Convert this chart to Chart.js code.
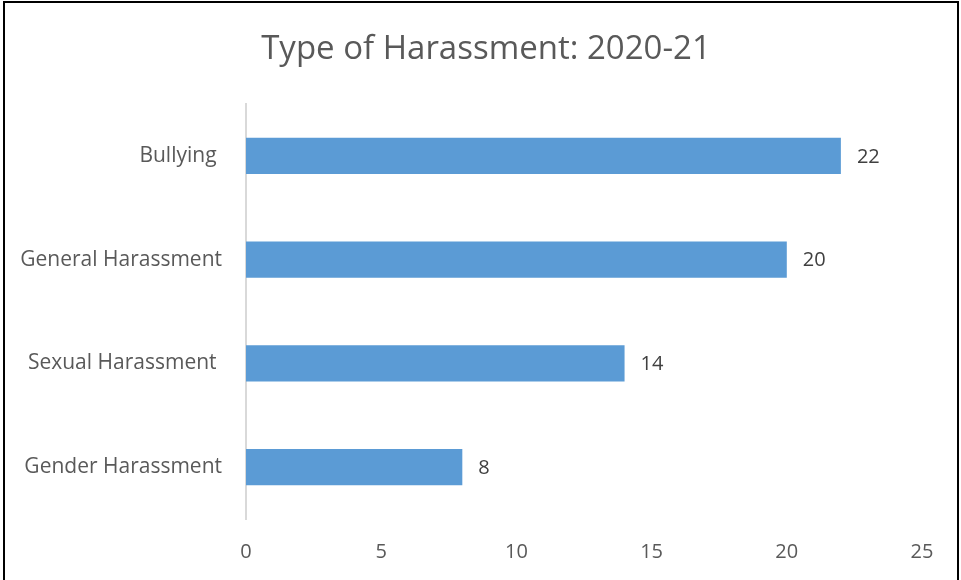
<!DOCTYPE html>
<html>
<head>
<meta charset="utf-8">
<script src="https://cdn.jsdelivr.net/npm/chart.js@4"></script>
<style>
  html, body { margin: 0; padding: 0; background: #fff; }
  #wrap { position: relative; width: 961px; height: 580px; }
  canvas { display: block; }
</style>
</head>
<body>
<div id="wrap"><canvas id="c" width="961" height="580"></canvas></div>
<script>
const chartTitle = 'Type of Harassment: 2020-21';
const categories = ['Bullying ', 'General Harassment', 'Sexual Harassment ', 'Gender Harassment'];
const values = [22, 20, 14, 8];
const axisMin = 0;
const axisMax = 25;
const axisStep = 5;

const FONT = '"Open Sans", Lato, sans-serif';

const valueLabels = {
  id: 'valueLabels',
  afterDatasetsDraw(chart) {
    const ctx = chart.ctx;
    const meta = chart.getDatasetMeta(0);
    ctx.save();
    ctx.font = '20px ' + FONT;
    ctx.fillStyle = '#404040';
    ctx.textAlign = 'left';
    ctx.textBaseline = 'middle';
    meta.data.forEach((bar, i) => {
      ctx.fillText(String(values[i]), bar.x + 16, bar.y + 1);
    });
    ctx.restore();
  }
};

const frame = {
  id: 'frame',
  afterDraw(chart) {
    const ctx = chart.ctx;
    ctx.save();
    ctx.strokeStyle = '#000';
    ctx.lineWidth = 2;
    ctx.beginPath();
    ctx.moveTo(4, 585);
    ctx.lineTo(4, 2);
    ctx.lineTo(958, 2);
    ctx.lineTo(958, 585);
    ctx.stroke();
    ctx.restore();
  }
};

new Chart(document.getElementById('c'), {
  type: 'bar',
  data: {
    labels: categories,
    datasets: [{
      data: values,
      backgroundColor: '#5B9BD5',
      borderWidth: 0,
      categoryPercentage: 1,
      barPercentage: 0.35
    }]
  },
  options: {
    indexAxis: 'y',
    responsive: false,
    animation: false,
    layout: { padding: { left: 11, right: 0, top: 0, bottom: 0 } },
    plugins: {
      legend: { display: false },
      tooltip: { enabled: false },
      title: {
        display: true,
        text: chartTitle,
        color: '#595959',
        font: { family: FONT, size: 33, weight: 'normal', lineHeight: 1.2 },
        padding: { top: 30, bottom: 34.4 }
      }
    },
    scales: {
      x: {
        min: axisMin,
        max: axisMax,
        ticks: {
          stepSize: axisStep,
          color: '#595959',
          font: { family: FONT, size: 20 },
          padding: 21
        },
        grid: { display: false, drawTicks: false },
        border: { display: false },
        afterFit(scale) { scale.height = 61; }
      },
      y: {
        ticks: {
          color: '#595959',
          font: { family: FONT, size: 21 },
          padding: 24
        },
        grid: { display: false, drawTicks: false },
        border: { display: true, color: '#D9D9D9', width: 2 },
        afterFit(scale) { scale.width = 235; }
      },
      ySpacer: {
        type: 'category',
        position: 'right',
        display: true,
        ticks: { display: false },
        grid: { display: false, drawTicks: false },
        border: { display: false },
        afterFit(scale) { scale.width = 39; }
      }
    }
  },
  plugins: [valueLabels, frame]
});
</script>
</body>
</html>
